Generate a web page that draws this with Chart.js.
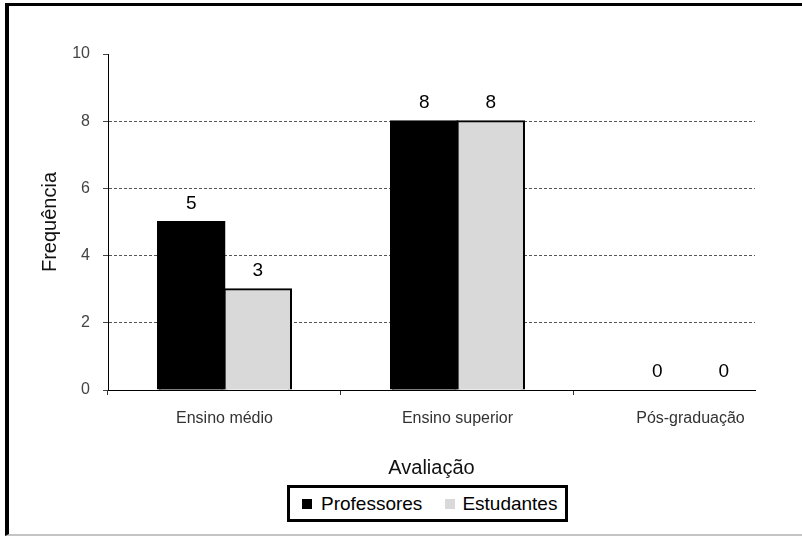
<!DOCTYPE html>
<html>
<head>
<meta charset="utf-8">
<script src="https://cdn.jsdelivr.net/npm/chart.js@4/dist/chart.umd.min.js"></script>
<style>
  html, body { margin: 0; padding: 0; background: #fff; }
  #wrap { position: relative; width: 802px; height: 537px; overflow: hidden; font-family: "Liberation Sans", Arial, sans-serif; }
  #chart { position: absolute; left: 0; top: 0; }
  #frame { position: absolute; left: 5px; top: 3px; right: -10px; bottom: 1px;
           border-top: 3px solid #000; border-left: 4px solid #000; border-bottom: 2px solid #c4c4c4; }
  #legend { position: absolute; left: 287px; top: 485px; width: 275px; height: 31px;
            border: 3px solid #000; display: flex; align-items: center; background: #fff; }
  .legend-item { display: flex; align-items: center; font-size: 19px; color: #000; }
  .legend-swatch { width: 10px; height: 10px; display: inline-block; }
</style>
</head>
<body>
<div id="wrap">
  <canvas id="chart" width="802" height="537"></canvas>
  <div id="frame"></div>
  <div id="legend"></div>
</div>
<script>
const categories = ["Ensino médio", "Ensino superior", "Pós-graduação"];
const professores = [5, 8, 0];
const estudantes = [3, 8, 0];
const yTicks = [0, 2, 4, 6, 8, 10];

const FONT = "'Liberation Sans', Arial, sans-serif";

const toPoints = (values) => values.map((v, i) => ({ x: i, y: v }));

const datasets = [
  { label: "Professores", data: toPoints(professores), backgroundColor: "#000000", borderColor: "#000000", borderWidth: 2, inflateAmount: 1 },
  { label: "Estudantes", data: toPoints(estudantes), backgroundColor: "#d9d9d9", borderColor: "#000000", borderWidth: 2, inflateAmount: 1 }
];

// numbers over each bar
const valueLabels = {
  id: "valueLabels",
  afterDatasetsDraw(chart) {
    const ctx = chart.ctx;
    ctx.save();
    ctx.font = "19px " + FONT;
    ctx.fillStyle = "#000";
    ctx.textAlign = "center";
    ctx.textBaseline = "alphabetic";
    chart.data.datasets.forEach((ds, di) => {
      chart.getDatasetMeta(di).data.forEach((bar, i) => {
        ctx.fillText(String(ds.data[i].y), bar.x, bar.y - 13);
      });
    });
    ctx.restore();
  }
};

new Chart(document.getElementById("chart"), {
  type: "bar",
  data: { datasets },
  plugins: [valueLabels],
  options: {
    responsive: false,
    devicePixelRatio: 1,
    animation: false,
    layout: { padding: { left: 0, top: 54, right: 47, bottom: 47 } },
    datasets: { bar: { categoryPercentage: 0.571, barPercentage: 1 } },
    plugins: { legend: { display: false }, tooltip: { enabled: false } },
    scales: {
      x: {
        type: "linear",
        offset: false,
        min: -0.5,
        max: 2.277,
        afterBuildTicks: (s) => { s.ticks = categories.map((_, i) => ({ value: i })); },
        afterFit: (s) => { s.height = 100; },
        ticks: {
          callback: (v) => categories[v],
          font: { size: 16, family: FONT },
          color: "#333",
          padding: 14,
          maxRotation: 0,
          autoSkip: false
        },
        grid: { offset: true, drawOnChartArea: false, drawTicks: true, tickLength: 5, tickColor: "#333" },
        border: { display: true, color: "#000", width: 1 },
        title: {
          display: true,
          text: "Avaliação",
          font: { size: 20, family: FONT },
          color: "#111",
          padding: { top: 0, bottom: 10 }
        }
      },
      y: {
        min: 0,
        max: 10,
        afterBuildTicks: (s) => { s.ticks = yTicks.map((v) => ({ value: v })); },
        afterFit: (s) => { s.width = 108; },
        ticks: { font: { size: 16, family: FONT }, color: "#444", padding: 13 },
        grid: {
          color: (c) => (c.tick && (c.tick.value === 0 || c.tick.value === 10)) ? "rgba(0,0,0,0)" : "#555",
          tickColor: "#444",
          tickLength: 5,
          lineWidth: 1
        },
        border: { display: true, color: "#000", width: 1, dash: [3, 2] },
        title: {
          display: true,
          text: "Frequência",
          font: { size: 20, family: FONT },
          color: "#111",
          padding: { top: 38, bottom: 0 }
        }
      }
    }
  }
});

// legend box under the axis title
const legend = document.getElementById("legend");
const gaps = [12, 23];
datasets.forEach((ds, i) => {
  const item = document.createElement("div");
  item.className = "legend-item";
  item.style.marginLeft = gaps[i] + "px";
  const sw = document.createElement("span");
  sw.className = "legend-swatch";
  sw.style.background = ds.backgroundColor;
  const txt = document.createElement("span");
  txt.textContent = ds.label;
  txt.style.marginLeft = (i === 0 ? 9 : 7) + "px";
  item.appendChild(sw);
  item.appendChild(txt);
  legend.appendChild(item);
});
</script>
</body>
</html>
